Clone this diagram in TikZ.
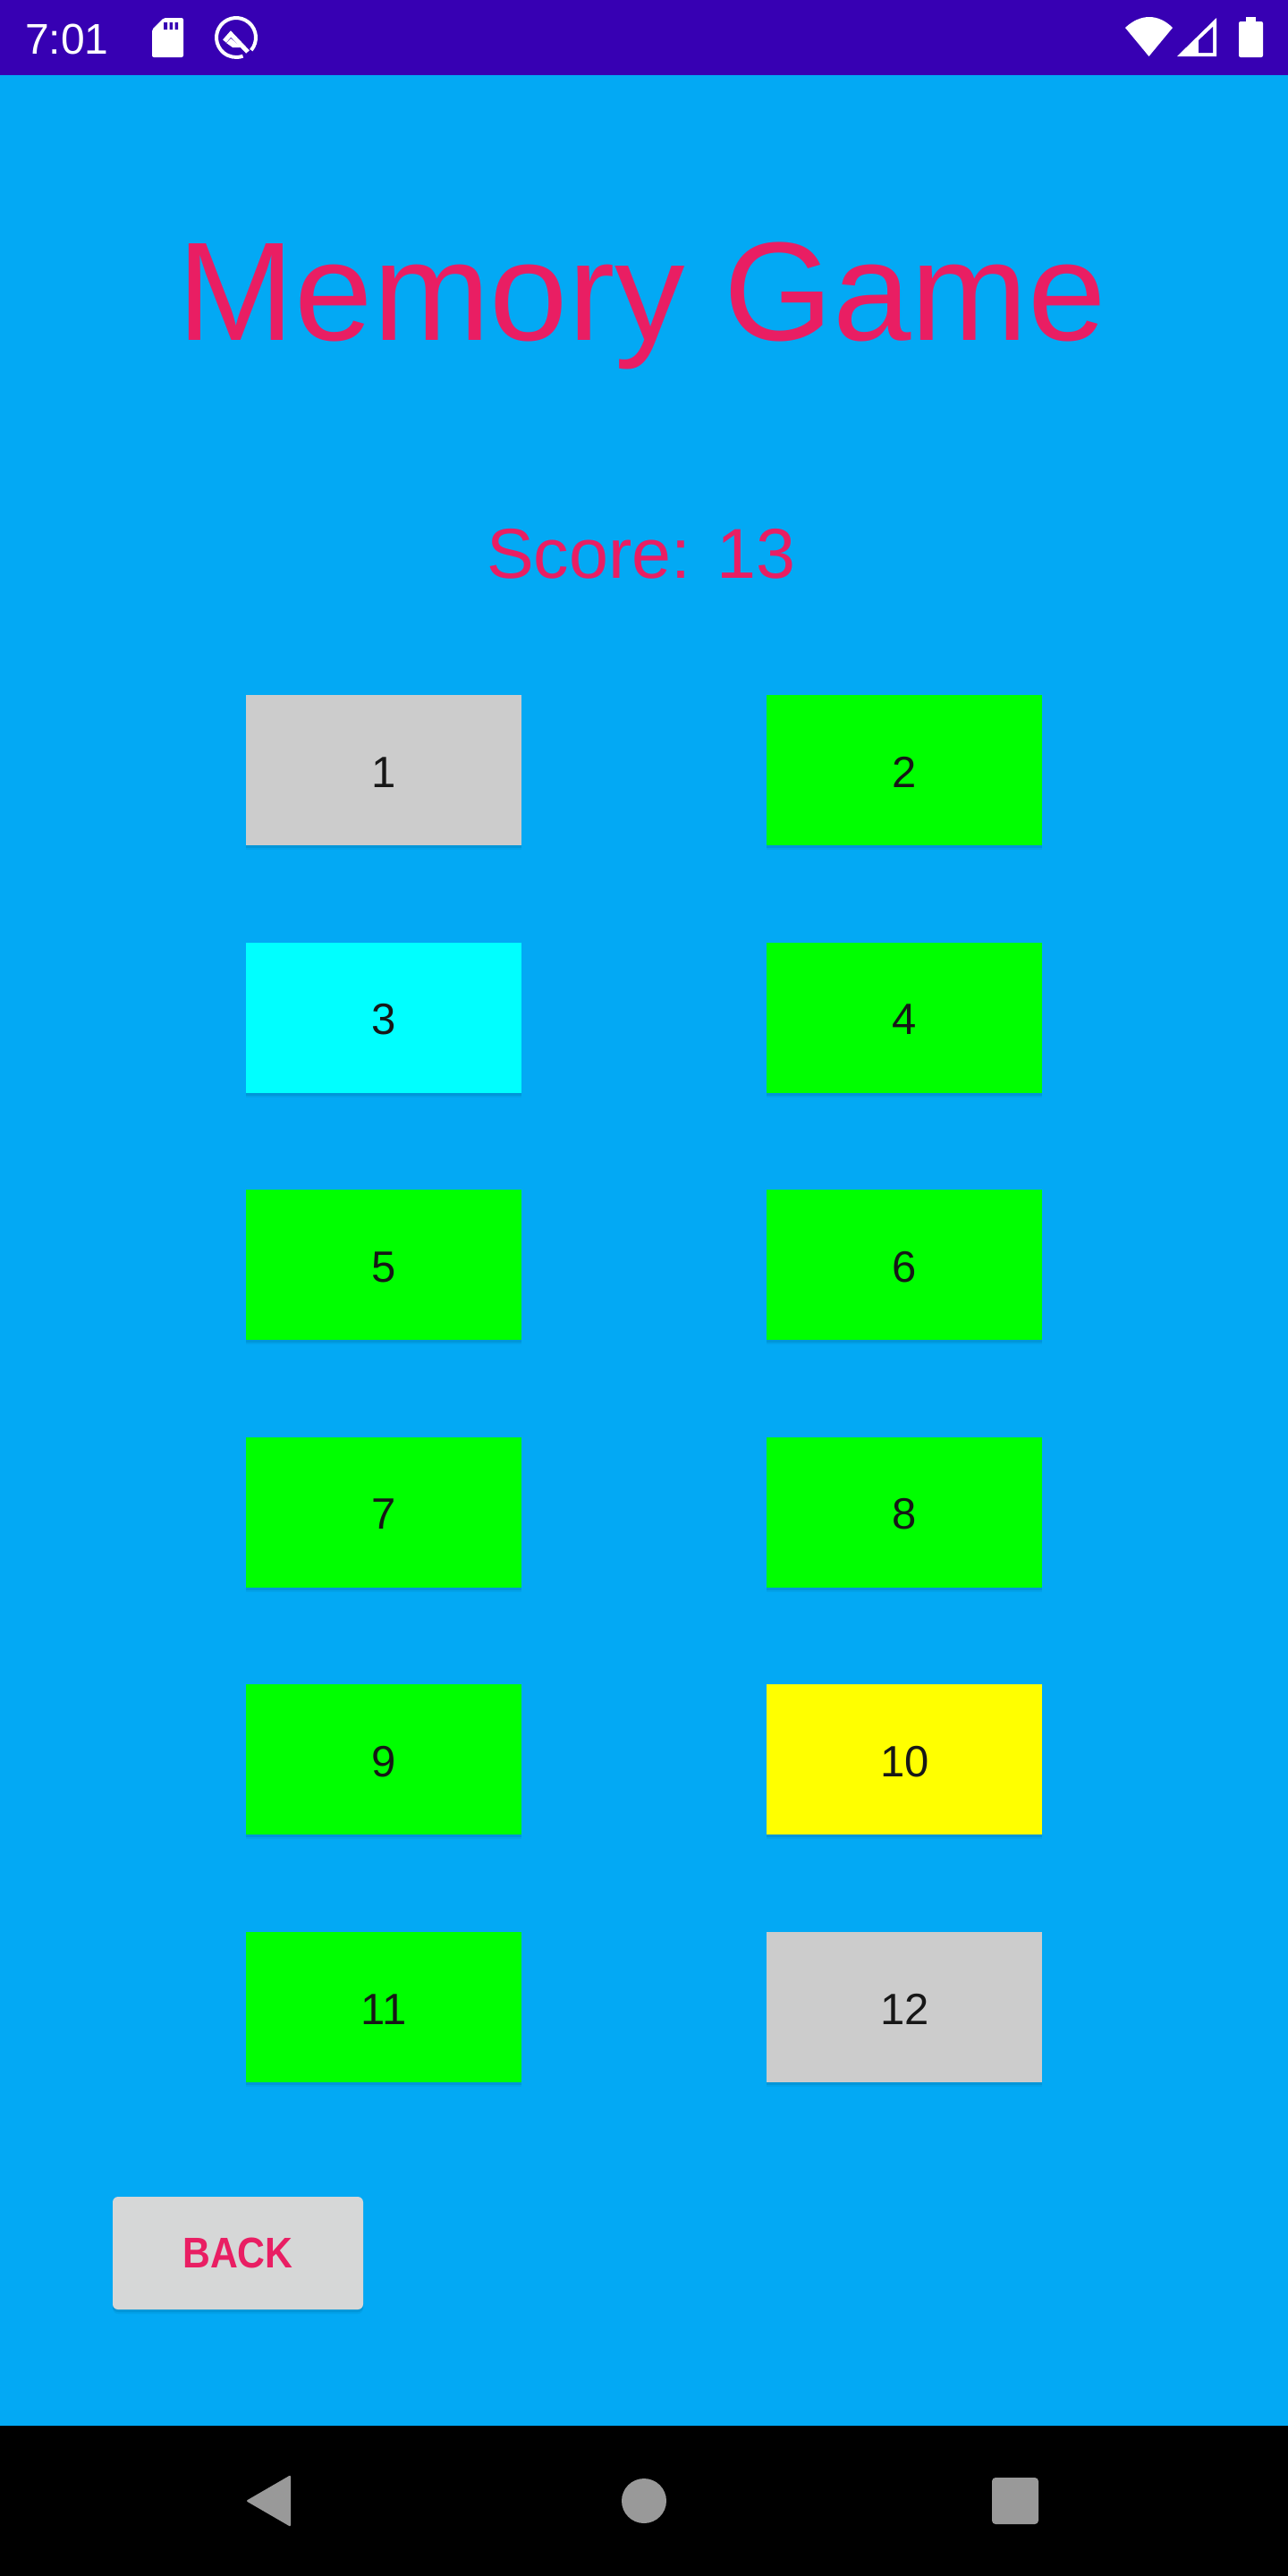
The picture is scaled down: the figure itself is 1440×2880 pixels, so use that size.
\documentclass[tikz,border=0pt]{standalone}
\usepackage{fontspec}
\setmainfont{Liberation Sans}
\newfontfamily\backfont[FakeStretch=0.89]{Liberation Sans Bold}
\usepackage{xcolor}
\usepackage{tikz}
\usetikzlibrary{positioning,shadows}
\definecolor{Screen}{HTML}{03A9F4}
\definecolor{StatusBar}{HTML}{3700B3}
\definecolor{Pink}{HTML}{E91E63}
\definecolor{CellGray}{HTML}{CCCCCC}
\definecolor{CellGreen}{HTML}{00FF00}
\definecolor{CellCyan}{HTML}{00FFFF}
\definecolor{CellYellow}{HTML}{FFFF00}
\definecolor{BackGray}{HTML}{D6D7D7}
\definecolor{NavGray}{HTML}{999999}
\definecolor{Digit}{HTML}{171717}

\begin{document}
\begin{tikzpicture}[
  x=1pt,y=-1pt,
  soft/.style={general shadow={shadow xshift=0pt,shadow yshift=-5pt,fill=black,opacity=.04,scale=1.015},
    general shadow={shadow xshift=0pt,shadow yshift=-3pt,fill=black,opacity=.07}},
  cell/.style={soft,inner sep=0pt,minimum width=308pt,minimum height=168pt,text=Digit,text height=38pt,text depth=0pt,font=\fontsize{49}{49}\selectfont},
  heading/.style={text=Pink,inner sep=0pt,anchor=base},
  icon/.style={fill=white,draw=none},
  navicon/.style={fill=NavGray,draw=none,rounded corners=2pt}
]
  \useasboundingbox (0,0) rectangle (1440,2880);
  \fill[Screen] (0,0) rectangle (1440,2880);
  \fill[StatusBar] (0,0) rectangle (1440,84);
  \fill[black] (0,2712) rectangle (1440,2880);

  % status bar
  \node[text=white,inner sep=0pt,anchor=base west,font=\fontsize{48}{48}\selectfont] (clock) at (28,60) {7:01};
  \fill[icon,rounded corners=2pt] (170,33) -- (183,20) -- (205,20) -- (205,64) -- (170,64) -- cycle;
  \fill[StatusBar] (183,25) rectangle (187,33) (189.5,25) rectangle (193,33) (195.5,25) rectangle (199,33);
  \draw[white,line width=4pt] (264,42) ++(-40:22pt) arc[start angle=-40,end angle=290,radius=22pt];
  \draw[white,line width=5pt] (251,46) -- (258,38) -- (277,58);
  \fill[icon] (253,48) -- (258,43) -- (270,53) -- (260,53) -- cycle;
  \fill[icon] (1258,31) .. controls (1275,15) and (1295,15) .. (1311,31) -- (1284.5,63) -- cycle;
  \fill[icon] (1316,63) -- (1360,20) -- (1360,63) -- cycle;
  \fill[StatusBar] (1340,45) -- (1356,30) -- (1356,59) -- (1340,59) -- cycle;
  \fill[icon] (1393,19) rectangle (1404,25);
  \fill[icon,rounded corners=2pt] (1385,24) rectangle (1412,64);

  \node[heading,font=\fontsize{157}{157}\selectfont] (title) at (718,380) {Memory Game};
  \node[heading,font=\fontsize{79}{79}\selectfont] (score) at (717,646) {Score: 13};

  \node[cell,fill=CellGray] (cell1) at (429,861) {1};
  \node[cell,fill=CellGreen,right=274pt of cell1] (cell2) {2};
  \node[cell,fill=CellCyan,below=108.2pt of cell1] (cell3) {3};
  \node[cell,fill=CellGreen,below=108.2pt of cell2] (cell4) {4};
  \node[cell,fill=CellGreen,below=108.2pt of cell3] (cell5) {5};
  \node[cell,fill=CellGreen,below=108.2pt of cell4] (cell6) {6};
  \node[cell,fill=CellGreen,below=108.2pt of cell5] (cell7) {7};
  \node[cell,fill=CellGreen,below=108.2pt of cell6] (cell8) {8};
  \node[cell,fill=CellGreen,below=108.2pt of cell7] (cell9) {9};
  \node[cell,fill=CellYellow,below=108.2pt of cell8] (cell10) {10};
  \node[cell,fill=CellGreen,below=108.2pt of cell9] (cell11) {11};
  \node[cell,fill=CellGray,below=108.2pt of cell10] (cell12) {12};

  \node[soft,fill=BackGray,rounded corners=6pt,inner sep=0pt,minimum width=280pt,minimum height=126pt,text=Pink,font=\backfont\fontsize{48}{48}\selectfont] (back) at (266,2519) {BACK};

  % navigation bar
  \fill[navicon] (325,2767) -- (275,2796) -- (325,2825) -- cycle;
  \fill[NavGray] (720,2796) circle[radius=25pt];
  \fill[navicon,rounded corners=4pt] (1109,2770) rectangle (1161,2822);
\end{tikzpicture}
\end{document}
